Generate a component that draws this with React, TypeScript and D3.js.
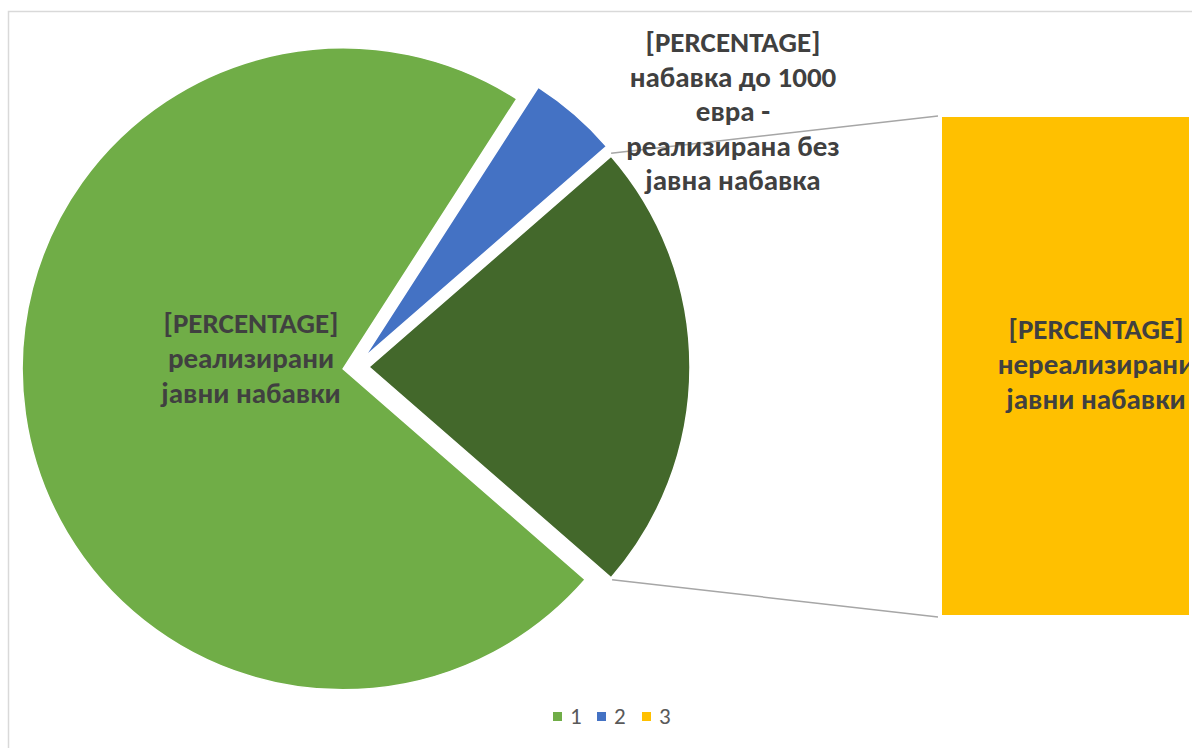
import React from "react";
import * as d3 from "d3";

// ---- data ----
const categories = ["1", "2", "3"];
const sliceValues = [72.7, 4.5, 22.8]; // 1 = реализирани, 2 = до 1000 евра, 3 = нереализирани (bar)
const pieLabels = [
  ["[PERCENTAGE]", "реализирани", "јавни набавки"],
  ["[PERCENTAGE]", "набавка до 1000", "евра -", "реализирана без", "јавна набавка"],
];
const barLabel = ["[PERCENTAGE]", "нереализирани", "јавни набавки"];
const colors = ["#70ad47", "#4472c4", "#ffc000"];
const otherColor = "#43682b";

const W = 1192;
const H = 748;
const FONT = "Carlito, Calibri, Lato, 'Open Sans', sans-serif";

export default function App() {
  const cx = 356;
  const cy = 367;
  const R = 321;
  const explode = 13;

  const total = d3.sum(sliceValues);
  const otherFrac = sliceValues[2] / total;
  const start = Math.PI / 2 + otherFrac * Math.PI;

  const pieGen = d3
    .pie<number>()
    .sort(null)
    .value((d) => d)
    .startAngle(start)
    .endAngle(start + 2 * Math.PI);
  const arcs = pieGen(sliceValues);
  const arcGen = d3.arc<d3.PieArcDatum<number>>().innerRadius(0).outerRadius(R);

  const slicePos = arcs.map((a) => {
    const mid = (a.startAngle + a.endAngle) / 2;
    return { x: cx + explode * Math.sin(mid), y: cy - explode * Math.cos(mid) };
  });

  // bar (pie of bar secondary plot)
  const barX0 = 942;
  const barX1 = 1189;
  const yBar = d3.scaleLinear().domain([0, sliceValues[2]]).range([615, 117]);

  const other = arcs[2];
  const op = slicePos[2];
  const c1 = { x: op.x + R * Math.sin(other.startAngle), y: op.y - R * Math.cos(other.startAngle) };
  const c2 = { x: op.x + R * Math.sin(other.endAngle), y: op.y - R * Math.cos(other.endAngle) };

  const labelStyle = {
    fontFamily: FONT,
    fontWeight: 700,
    fontSize: 29,
    fill: "#404040",
  } as const;

  const label1Y = [333, 368, 403];
  const label2Y = [52, 86.5, 121, 155.5, 190];
  const label3Y = [339, 374, 408.5];

  const legendX = [553, 597, 642];

  return (
    <svg
      width={W}
      height={H}
      style={{ position: "fixed", left: 0, top: 0, background: "#fff" }}
    >
      <defs>
        <clipPath id="clipR">
          <rect x={0} y={0} width={1189} height={H} />
        </clipPath>
      </defs>
      <rect x={0} y={0} width={W} height={H} fill="#fff" />
      <rect x={8.5} y={11.5} width={1400} height={900} fill="#fff" stroke="#d9d9d9" strokeWidth={1.5} />

      {/* connector lines */}
      <line x1={c1.x} y1={c1.y - 3} x2={barX0 - 4} y2={yBar(sliceValues[2]) - 1} stroke="#a6a6a6" strokeWidth={1.5} />
      <line x1={c2.x + 1} y1={c2.y + 2} x2={barX0 - 4} y2={yBar(0) + 2} stroke="#a6a6a6" strokeWidth={1.5} />

      {/* pie slices */}
      {arcs.map((a, i) => (
        <path
          key={categories[i]}
          d={arcGen(a) || ""}
          transform={`translate(${slicePos[i].x},${slicePos[i].y})`}
          fill={i === 2 ? otherColor : colors[i]}
          stroke="#fff"
          strokeWidth={1.5}
        />
      ))}

      {/* bar */}
      <rect
        x={barX0}
        y={yBar(sliceValues[2])}
        width={barX1 - barX0}
        height={yBar(0) - yBar(sliceValues[2])}
        fill={colors[2]}
      />

      {/* labels */}
      <text {...labelStyle} textAnchor="middle">
        {pieLabels[0].map((t, i) => (
          <tspan key={i} x={251} y={label1Y[i]}>
            {t}
          </tspan>
        ))}
      </text>
      <text {...labelStyle} textAnchor="middle">
        {pieLabels[1].map((t, i) => (
          <tspan key={i} x={733} y={label2Y[i]}>
            {t}
          </tspan>
        ))}
      </text>
      <g clipPath="url(#clipR)">
        <text {...labelStyle} textAnchor="middle">
          {barLabel.map((t, i) => (
            <tspan key={i} x={1096} y={label3Y[i]}>
              {t}
            </tspan>
          ))}
        </text>
      </g>

      {/* legend */}
      {categories.map((c, i) => (
        <g key={c}>
          <rect x={legendX[i]} y={712} width={9} height={9} fill={colors[i]} />
          <text
            x={legendX[i] + 17}
            y={724}
            fontFamily={FONT}
            fontSize={23}
            fill="#595959"
          >
            {c}
          </text>
        </g>
      ))}
    </svg>
  );
}
